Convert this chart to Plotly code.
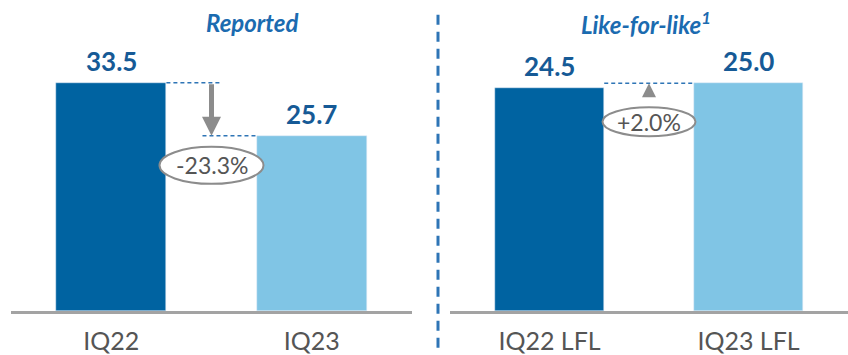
import plotly.graph_objects as go

# Sales figures (two panels: reported and like-for-like)
reported_labels = ["IQ22", "IQ23"]
reported_values = [33.5, 25.7]
lfl_labels = ["IQ22 LFL", "IQ23 LFL"]
lfl_values = [24.5, 25.0]
panel_titles = ["Reported", "Like-for-like<sup>1</sup>"]

DARK = "#0063a1"
LIGHT = "#80c5e5"
VALUE_BLUE = "#165a96"
TITLE_BLUE = "#1b6bb0"
GREY_TXT = "#555555"
GREY_MARK = "#8c8c8c"
AXIS_GREY = "#a3a3a3"
DASH_BLUE = "#2e75b6"
FONT = "Lato"
BAR_W = 0.55


def pct(a, b):
    return f"{(b / a - 1) * 100:+.1f}%".replace("+-", "-")


fig = go.Figure()
fig.add_trace(go.Bar(x=reported_labels, y=reported_values, marker_color=[DARK, LIGHT],
                     width=BAR_W, xaxis="x", yaxis="y", hoverinfo="skip"))
fig.add_trace(go.Bar(x=lfl_labels, y=lfl_values, marker_color=[DARK, LIGHT],
                     width=BAR_W, xaxis="x2", yaxis="y2", hoverinfo="skip"))

annotations = []
shapes = []

# value labels above bars
for xs, ys, xr, yr in [(reported_labels, reported_values, "x", "y"),
                       (lfl_labels, lfl_values, "x2", "y2")]:
    for c, v in zip(xs, ys):
        annotations.append(dict(x=c, y=v, xref=xr, yref=yr, text=f"<b>{v:.1f}</b>",
                                showarrow=False, yanchor="bottom", yshift=4,
                                font=dict(family=FONT, size=26, color=VALUE_BLUE)))

# panel titles
for x_pos, t in zip([0.298, 0.762], panel_titles):
    annotations.append(dict(x=x_pos, y=1 - 23 / 314, xref="paper", yref="paper",
                            text=f"<b><i>{t}</i></b>", showarrow=False,
                            xanchor="center", yanchor="middle",
                            font=dict(family=FONT, size=24, color=TITLE_BLUE)))

dash_line = dict(color=DASH_BLUE, width=1.5, dash="4px,3px")
half = BAR_W / 2

# reported: guide lines, arrow and change bubble
shapes.append(dict(type="line", xref="x", yref="y", x0=half, x1=0.545,
                   y0=reported_values[0], y1=reported_values[0], line=dash_line))
shapes.append(dict(type="line", xref="x", yref="y", x0=0.455, x1=1 - half,
                   y0=reported_values[1], y1=reported_values[1], line=dash_line))
annotations.append(dict(x=0.5, y=reported_values[1], ax=0.5, ay=reported_values[0],
                        xref="x", yref="y", axref="x", ayref="y", text="",
                        showarrow=True, arrowhead=2, arrowsize=0.76, arrowwidth=5,
                        arrowcolor=GREY_MARK, standoff=0))
shapes.append(dict(type="circle", xref="x", yref="y", xsizemode="pixel", ysizemode="pixel",
                   xanchor=0.5, yanchor=reported_values[1], x0=-52, x1=52, y0=-48, y1=-11,
                   line=dict(color=GREY_MARK, width=2), fillcolor="white", layer="above"))
annotations.append(dict(x=0.5, y=reported_values[1], xref="x", yref="y",
                        text=pct(*reported_values), showarrow=False, yanchor="middle",
                        yshift=-29.5, font=dict(family=FONT, size=23, color=GREY_TXT)))

# like-for-like: guide line, pointer and change bubble
shapes.append(dict(type="line", xref="x2", yref="y2", x0=half, x1=1 - half,
                   y0=lfl_values[1], y1=lfl_values[1], line=dash_line))
annotations.append(dict(x=0.5, y=lfl_values[1], xref="x2", yref="y2", ax=0, ay=14,
                        text="", showarrow=True, arrowhead=2, arrowsize=1.4, arrowwidth=2,
                        arrowcolor=GREY_MARK, standoff=0))
shapes.append(dict(type="circle", xref="x2", yref="y2", xsizemode="pixel", ysizemode="pixel",
                   xanchor=0.5, yanchor=lfl_values[1], x0=-46.5, x1=46.5, y0=-53, y1=-24,
                   line=dict(color=GREY_MARK, width=2), fillcolor="white", layer="above"))
annotations.append(dict(x=0.5, y=lfl_values[1], xref="x2", yref="y2",
                        text=pct(*lfl_values), showarrow=False, yanchor="middle",
                        yshift=-38.5, font=dict(family=FONT, size=23, color=GREY_TXT)))

# dashed divider between panels
shapes.append(dict(type="line", xref="paper", yref="paper", x0=438 / 848, x1=438 / 848,
                   y0=1 - 15 / 314, y1=1 - 353 / 314,
                   line=dict(color=DASH_BLUE, width=3, dash="10px,7px")))

xaxis_common = dict(showline=True, linecolor=AXIS_GREY, linewidth=3, showgrid=False,
                    zeroline=False, ticks="outside", ticklen=6, tickcolor="rgba(0,0,0,0)",
                    range=[-0.5, 1.5], fixedrange=True,
                    tickfont=dict(family=FONT, size=25, color=GREY_TXT))
yaxis_common = dict(visible=False, showgrid=False, zeroline=False, fixedrange=True)

fig.update_layout(
    width=848, height=355,
    margin=dict(l=0, r=0, t=0, b=41),
    paper_bgcolor="white", plot_bgcolor="white",
    showlegend=False, bargap=0,
    xaxis=dict(domain=[11 / 848, 412 / 848], anchor="y", **xaxis_common),
    xaxis2=dict(domain=[450 / 848, 1.0], anchor="y2", **xaxis_common),
    yaxis=dict(domain=[0, 1], anchor="x", range=[0, max(reported_values) * 314 / 230.5],
               **yaxis_common),
    yaxis2=dict(domain=[0, 1], anchor="x2", range=[0, max(lfl_values) * 314 / 230],
                **yaxis_common),
    annotations=annotations,
    shapes=shapes,
)

fig.write_html("out.html", config={"displayModeBar": False})
